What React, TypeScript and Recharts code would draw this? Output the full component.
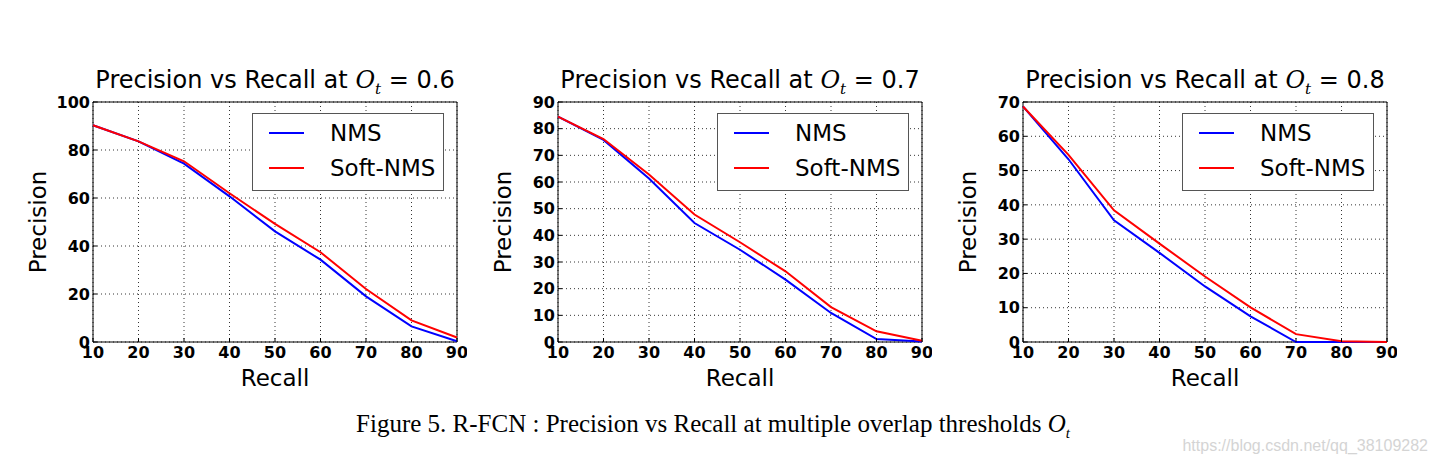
import React from 'react'
import { CartesianGrid, Legend, Line, LineChart, ReferenceArea, XAxis, YAxis } from 'recharts'

const recall = [10, 20, 30, 40, 50, 60, 70, 80, 90]
const nms06 = [90.3, 83.6, 74.3, 60.7, 46.1, 34.3, 19.0, 6.5, 0.3]
const soft06 = [90.3, 83.6, 75.3, 62.0, 49.2, 37.4, 22.1, 9.0, 1.9]
const nms07 = [84.5, 75.8, 61.3, 44.6, 34.6, 23.4, 10.9, 1.1, 0.2]
const soft07 = [84.5, 76.1, 62.8, 47.8, 37.4, 26.5, 13.1, 4.0, 0.5]
const nms08 = [68.7, 53.3, 35.5, 26.0, 16.2, 7.5, 0, 0, 0]
const soft08 = [68.7, 54.6, 38.4, 28.7, 19.1, 10.1, 2.3, 0.2, 0]

const yTicks06 = [0, 20, 40, 60, 80, 100]
const yTicks07 = [0, 10, 20, 30, 40, 50, 60, 70, 80, 90]
const yTicks08 = [0, 10, 20, 30, 40, 50, 60, 70]

const SANS = '"DejaVu Sans", sans-serif'
const PLOT_W = 364
const PLOT_H = 240
const PLOT_TOP = 102
const AXIS_W = 80

function LegendBox() {
  const rows = [
    { name: 'NMS', color: '#0000ff' },
    { name: 'Soft-NMS', color: '#ff0000' },
  ]
  return (
    <div
      style={{
        width: 190,
        height: 76,
        border: '1px solid #555',
        background: '#fff',
        boxSizing: 'content-box',
        fontFamily: SANS,
        fontSize: 23,
        position: 'relative',
      }}
    >
      {rows.map((r, i) => (
        <div key={r.name} style={{ position: 'absolute', left: 0, top: 5 + i * 35, height: 28, display: 'flex', alignItems: 'center' }}>
          <div style={{ marginLeft: 16, width: 35, height: 2, background: r.color }} />
          <span style={{ marginLeft: 26, color: '#000' }}>{r.name}</span>
        </div>
      ))}
    </div>
  )
}

function PRChart({ left, ot, nms, soft, yTicks }: { left: number; ot: string; nms: number[]; soft: number[]; yTicks: number[] }) {
  const data = recall.map((r, i) => ({ recall: r, nms: nms[i], soft: soft[i] }))
  const yMax = yTicks[yTicks.length - 1]
  const tickStyle = { fontFamily: SANS, fontSize: 16, fontWeight: 700, fill: '#000' }
  return (
    <>
      <div
        style={{
          position: 'absolute',
          left: left - 20,
          width: PLOT_W + 40,
          top: 68,
          textAlign: 'center',
          fontFamily: SANS,
          fontSize: 24,
          lineHeight: '24px',
          whiteSpace: 'nowrap',
        }}
      >
        Precision vs Recall at{' '}
        <span style={{ fontFamily: '"DejaVu Serif", serif', fontStyle: 'italic' }}>
          O<sub style={{ fontSize: 15 }}>t</sub>
        </span>{' '}
        = {ot}
      </div>
      <div style={{ position: 'absolute', left: left - AXIS_W, top: PLOT_TOP - 10 }}>
        <LineChart
          width={AXIS_W + PLOT_W + 10}
          height={10 + PLOT_H + 50}
          data={data}
          margin={{ top: 10, right: 10, bottom: 0, left: 0 }}
        >
          <CartesianGrid stroke="#000" strokeDasharray="1 3" strokeWidth={0.8} />
          <XAxis
            type="number"
            dataKey="recall"
            domain={[10, 90]}
            ticks={recall}
            height={50}
            tick={tickStyle}
            tickSize={-4}
            tickMargin={9}
            axisLine={false}
            tickLine={{ stroke: '#000' }}
            label={{ value: 'Recall', position: 'insideBottom', offset: 6, style: { fontFamily: SANS, fontSize: 23, fill: '#000' } }}
          />
          <YAxis
            type="number"
            domain={[0, yMax]}
            ticks={yTicks}
            width={AXIS_W}
            tick={tickStyle}
            tickSize={-4}
            tickMargin={7}
            axisLine={false}
            tickLine={{ stroke: '#000' }}
            label={{ value: 'Precision', angle: -90, position: 'insideLeft', offset: 25, style: { textAnchor: 'middle', fontFamily: SANS, fontSize: 23, fill: '#000' } }}
          />
          <ReferenceArea x1={10} x2={90} y1={0} y2={yMax} fill="none" stroke="#000" strokeWidth={1} />
          <Legend
            layout="vertical"
            align="center"
            verticalAlign="middle"
            content={() => <LegendBox />}
            wrapperStyle={{ position: 'absolute', left: AXIS_W + 159, top: 21, width: 'auto' }}
          />
          <Line type="linear" dataKey="nms" name="NMS" stroke="#0000ff" strokeWidth={2} dot={false} isAnimationActive={false} />
          <Line type="linear" dataKey="soft" name="Soft-NMS" stroke="#ff0000" strokeWidth={2} dot={false} isAnimationActive={false} />
        </LineChart>
      </div>
    </>
  )
}

export default function App() {
  return (
    <div style={{ position: 'absolute', left: 0, top: 0, width: 1437, height: 467, background: '#fff', overflow: 'hidden' }}>
      <PRChart left={93} ot="0.6" nms={nms06} soft={soft06} yTicks={yTicks06} />
      <PRChart left={558} ot="0.7" nms={nms07} soft={soft07} yTicks={yTicks07} />
      <PRChart left={1023} ot="0.8" nms={nms08} soft={soft08} yTicks={yTicks08} />
      <div
        style={{
          position: 'absolute',
          left: 0,
          width: 1426,
          top: 410,
          textAlign: 'center',
          fontFamily: '"Liberation Serif", "Times New Roman", serif',
          fontSize: 25,
          whiteSpace: 'nowrap',
        }}
      >
        Figure 5. R-FCN : Precision vs Recall at multiple overlap thresholds{' '}
        <i>
          O<sub style={{ fontSize: 15 }}>t</sub>
        </i>
      </div>
      <div
        style={{
          position: 'absolute',
          right: 9,
          top: 437,
          fontFamily: '"Liberation Sans Narrow", "Liberation Sans", sans-serif',
          fontSize: 16,
          color: '#d4d4d4',
        }}
      >
        https://blog.csdn.net/qq_38109282
      </div>
    </div>
  )
}
